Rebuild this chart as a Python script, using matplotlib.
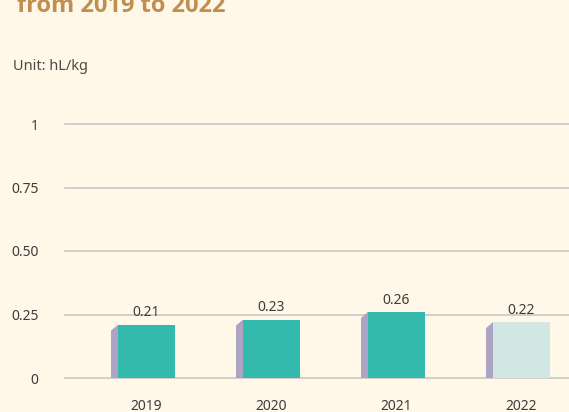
import numpy as np
import matplotlib.pyplot as plt
from matplotlib.patches import Polygon

years = ["2019", "2020", "2021", "2022"]
values = [0.21, 0.23, 0.26, 0.22]
labels = ["0.21", "0.23", "0.26", "0.22"]
yticks = [0, 0.25, 0.5, 0.75, 1]
yticklabels = ["0", "0.25", "0.50", "0.75", "1"]

bg = "#FFF8E8"
front = ["#33BAAC", "#33BAAC", "#33BAAC", "#D0E7E3"]
side = "#ADA3C3"

plt.rcParams['font.family'] = ['Noto Sans', 'DejaVu Sans']

fig = plt.figure(figsize=(5.69, 4.12), dpi=100, facecolor=bg)
ax = fig.add_axes([65/569, 34/412, 504/569, 254/412])
ax.set_facecolor(bg)

ax.set_xlim(-0.652, -0.652 + 504/125)
ax.set_ylim(0, 1)

# gridlines
for t in yticks:
    ax.axhline(t, color="#C8C8C8", lw=1.2, zorder=0, clip_on=False)

w = 0.456
dx = 7/125      # side face depth in x units
dy = 6/254      # bevel drop at the top of the side face
x = np.arange(len(years))
ax.bar(x, values, width=w, color=front, zorder=3)
for xi, v in zip(x, values):
    xl = xi - w/2
    ax.add_patch(Polygon([(xl - dx, 0), (xl - dx, v - dy), (xl, v), (xl, 0)],
                         closed=True, color=side, zorder=2, lw=0))

for xi, v, lab in zip(x, values, labels):
    ax.annotate(lab, (xi, v), xytext=(0, 3), textcoords="offset points",
                ha="center", va="bottom", fontsize=10, color="#3C3C3C")

ax.set_xticks(x)
ax.set_xticklabels(years)
ax.set_yticks(yticks)
ax.set_yticklabels(yticklabels)
ax.tick_params(axis="x", length=0, pad=15, labelsize=10, labelcolor="#3C3C3C")
ax.tick_params(axis="y", length=0, pad=19, labelsize=10, labelcolor="#3C3C3C")
for s in ax.spines.values():
    s.set_visible(False)

fig.text(17/569, 1 - 12/412, "from 2019 to 2022", fontsize=17, fontweight="bold",
         family=["Open Sans", "DejaVu Sans"],
         color="#C08F50", ha="left", va="baseline")
fig.text(13/569, 1 - 70/412, "Unit: hL/kg", fontsize=10.5, color="#4A4A4A",
         ha="left", va="baseline")

fig.savefig("out.png", dpi=100, facecolor=bg)
